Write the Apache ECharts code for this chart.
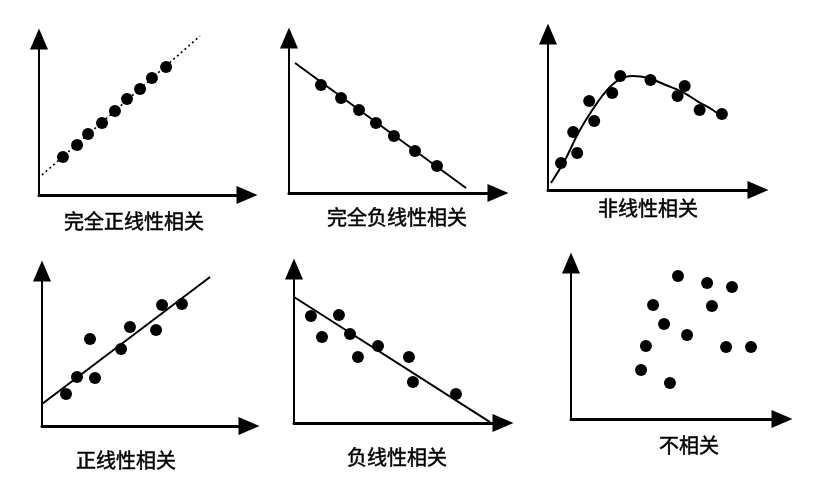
<!DOCTYPE html>
<html>
<head>
<meta charset="utf-8">
<script src="https://cdn.jsdelivr.net/npm/echarts@6/dist/echarts.min.js"></script>
<style>
  html, body { margin: 0; padding: 0; background: #fff; }
  #main { width: 819px; height: 481px; }
</style>
</head>
<body>
<div id="main"></div>
<script>
// 各小圖的標題
const titles = ["完全正线性相关", "完全负线性相关", "非线性相关", "正线性相关", "负线性相关", "不相关"];

// 散點 (x, y)，座標範圍 0~10
const perfectPosPoints = [[1.15, 2.44], [1.83, 3.21], [2.36, 3.91], [3.03, 4.62], [3.65, 5.38], [4.23, 6.15], [4.86, 6.79], [5.43, 7.5], [6.11, 8.21]];
const perfectNegPoints = [[1.53, 6.97], [2.49, 6.13], [3.35, 5.35], [4.16, 4.52], [5.02, 3.68], [6.03, 2.71], [7.08, 1.74]];
const nonlinearPoints = [[0.62, 1.73], [1.39, 2.37], [1.2, 3.72], [2.2, 4.42], [1.96, 5.71], [3.06, 6.22], [3.44, 7.31], [4.88, 7.05], [6.17, 6.03], [6.51, 6.67], [7.22, 5.13], [8.28, 4.87]];
const posPoints = [[1.16, 2.06], [1.69, 3.16], [2.56, 3.1], [2.32, 5.61], [3.82, 4.97], [4.25, 6.39], [5.51, 6.19], [5.8, 7.81], [6.76, 7.87]];
const negPoints = [[0.81, 6.95], [1.34, 5.58], [2.15, 7.01], [2.68, 5.78], [3.06, 4.29], [4.02, 5.0], [5.5, 4.29], [5.69, 2.66], [7.75, 1.88]];
const noCorrPoints = [[5.07, 9.17], [6.45, 8.72], [7.63, 8.46], [3.89, 7.31], [6.68, 7.24], [4.41, 6.09], [5.5, 5.38], [3.55, 4.68], [7.35, 4.62], [8.53, 4.62], [3.32, 3.14], [4.69, 2.31]];

// 擬合線
const perfectPosLine = [[0.14, 1.28], [7.74, 10.19]];
const perfectNegLine = [[0.29, 8.39], [8.47, 0.32]];
const nonlinearCurve = [[0.14, 0.45], [0.81, 1.92], [1.44, 3.65], [2.11, 5.13], [2.73, 6.28], [3.35, 7.05], [4.02, 7.31], [4.78, 7.18], [5.6, 6.73], [6.41, 6.28], [7.18, 5.64], [7.85, 5.13], [8.33, 4.62]];
const posLine = [[0, 1.42], [8.12, 9.61]];
const negLine = [[0, 8.18], [9.38, 0.06]];

// 每個小圖的版面 (原點 left/bottom, 寬高) 與標題中心
const panels = [
  { left: 39, top: 39, width: 208, height: 156, points: perfectPosPoints, line: perfectPosLine, dotted: true, label: [134, 221] },
  { left: 289, top: 38, width: 209, height: 155, points: perfectNegPoints, line: perfectNegLine, label: [397, 217] },
  { left: 548, top: 34, width: 210, height: 156, points: nonlinearPoints, line: nonlinearCurve, smooth: true, label: [648, 208] },
  { left: 42, top: 271, width: 207, height: 155, points: posPoints, line: posLine, label: [126, 460] },
  { left: 294, top: 269, width: 209, height: 154, points: negPoints, line: negLine, label: [397, 457] },
  { left: 571, top: 263, width: 211, height: 156, points: noCorrPoints, line: null, label: [689, 445] }
];

const chart = echarts.init(document.getElementById("main"));

const grid = [], xAxis = [], yAxis = [], series = [], graphic = [];

panels.forEach((p, i) => {
  grid.push({ left: p.left, top: p.top, width: p.width, height: p.height });
  const axisCommon = (w) => ({
    type: "value",
    gridIndex: i,
    min: 0,
    max: 10,
    axisLine: {
      show: true,
      onZero: false,
      symbol: ["none", "triangle"],
      symbolSize: [18, 21],
      lineStyle: { color: "#000", width: w }
    },
    axisTick: { show: false },
    axisLabel: { show: false },
    splitLine: { show: false }
  });
  xAxis.push(axisCommon(3));
  yAxis.push(axisCommon(2));

  if (p.line) {
    series.push({
      type: "line",
      xAxisIndex: i,
      yAxisIndex: i,
      data: p.line,
      smooth: p.smooth ? 0.4 : false,
      showSymbol: false,
      clip: false,
      silent: true,
      lineStyle: {
        color: "#000",
        width: p.dotted ? 1.6 : 2,
        type: p.dotted ? [2, 3] : "solid"
      },
      z: 1
    });
  }
  series.push({
    type: "scatter",
    xAxisIndex: i,
    yAxisIndex: i,
    data: p.points,
    symbolSize: 12,
    itemStyle: { color: "#000", opacity: 1 },
    z: 2
  });
  // 標題字稍微加粗
  graphic.push({
    type: "text",
    x: p.label[0],
    y: p.label[1],
    style: {
      text: titles[i],
      fill: "#000",
      stroke: "#000",
      lineWidth: 0.5,
      font: "20px 'Noto Sans CJK SC'",
      align: "center",
      verticalAlign: "middle"
    }
  });
});

chart.setOption({
  backgroundColor: "#fff",
  animation: false,
  grid: grid,
  xAxis: xAxis,
  yAxis: yAxis,
  series: series,
  graphic: graphic
});
</script>
</body>
</html>
